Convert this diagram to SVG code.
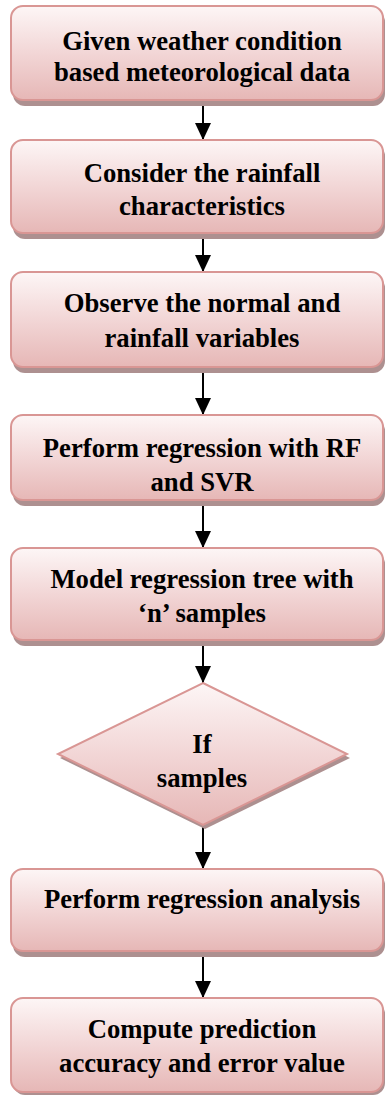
<svg xmlns="http://www.w3.org/2000/svg" width="386" height="1095" viewBox="0 0 386 1095">
<defs>
<linearGradient id="g" x1="0" y1="0" x2="0" y2="1">
<stop offset="0" stop-color="#fdf6f6"/>
<stop offset="0.5" stop-color="#f2d6d6"/>
<stop offset="1" stop-color="#e6b7b6"/>
</linearGradient>
<marker id="ah" markerUnits="userSpaceOnUse" markerWidth="18" markerHeight="16" refX="17" refY="8" orient="auto">
<path d="M0,0 L17,8 L0,16 Z" fill="#000"/>
</marker>
<style>
.box{fill:url(#g);stroke:#d99694;stroke-width:2}
.sh{fill:#ad9090}
.t{font-family:"Liberation Serif","Times New Roman",serif;font-weight:bold;font-size:26.7px;fill:#000;text-anchor:middle}
.c{stroke:#000;stroke-width:2;fill:none;marker-end:url(#ah)}
</style>
</defs>
<rect width="386" height="1095" fill="#fff"/>
<g id="connectors">
<line class="c" x1="203" y1="100" x2="203" y2="140"/>
<line class="c" x1="203" y1="233" x2="203" y2="272"/>
<line class="c" x1="203" y1="367" x2="203" y2="415"/>
<line class="c" x1="203" y1="500" x2="203" y2="548"/>
<line class="c" x1="203" y1="640" x2="203" y2="683"/>
<line class="c" x1="203" y1="825" x2="203" y2="869"/>
<line class="c" x1="203" y1="951" x2="203" y2="998"/>
</g>
<g id="n1">
<rect class="sh" x="13" y="10" width="372" height="96" rx="12"/>
<rect class="box" x="11" y="6" width="372" height="94" rx="12"/>
<text class="t" x="202" y="50">Given weather condition</text>
<text class="t" x="202" y="81">based meteorological data</text>
</g>
<g id="n2">
<rect class="sh" x="13" y="144" width="372" height="95" rx="12"/>
<rect class="box" x="11" y="140" width="372" height="93" rx="12"/>
<text class="t" x="202" y="182">Consider the rainfall</text>
<text class="t" x="202" y="215">characteristics</text>
</g>
<g id="n3">
<rect class="sh" x="13" y="276" width="372" height="97" rx="12"/>
<rect class="box" x="11" y="272" width="372" height="95" rx="12"/>
<text class="t" x="202" y="312">Observe the normal and</text>
<text class="t" x="202" y="347">rainfall variables</text>
</g>
<g id="n4">
<rect class="sh" x="13" y="419" width="372" height="87" rx="12"/>
<rect class="box" x="11" y="415" width="372" height="85" rx="12"/>
<text class="t" x="202" y="457">Perform regression with RF</text>
<text class="t" x="202" y="491">and SVR</text>
</g>
<g id="n5">
<rect class="sh" x="13" y="552" width="372" height="94" rx="12"/>
<rect class="box" x="11" y="548" width="372" height="92" rx="12"/>
<text class="t" x="202" y="588">Model regression tree with</text>
<text class="t" x="202" y="622">‘n’ samples</text>
</g>
<g id="n6">
<polygon class="sh" points="205,687 350,758 205,829 60,758"/>
<polygon class="box" points="203,683 347,754 203,825 58,754"/>
<text class="t" x="202" y="753">If</text>
<text class="t" x="202" y="787">samples</text>
</g>
<g id="n7">
<rect class="sh" x="13" y="873" width="372" height="84" rx="12"/>
<rect class="box" x="11" y="869" width="372" height="82" rx="12"/>
<text class="t" x="202" y="908">Perform regression analysis</text>
</g>
<g id="n8">
<rect class="sh" x="13" y="1002" width="372" height="93" rx="12"/>
<rect class="box" x="11" y="998" width="372" height="94" rx="12"/>
<text class="t" x="202" y="1038">Compute prediction</text>
<text class="t" x="202" y="1072">accuracy and error value</text>
</g>
</svg>
